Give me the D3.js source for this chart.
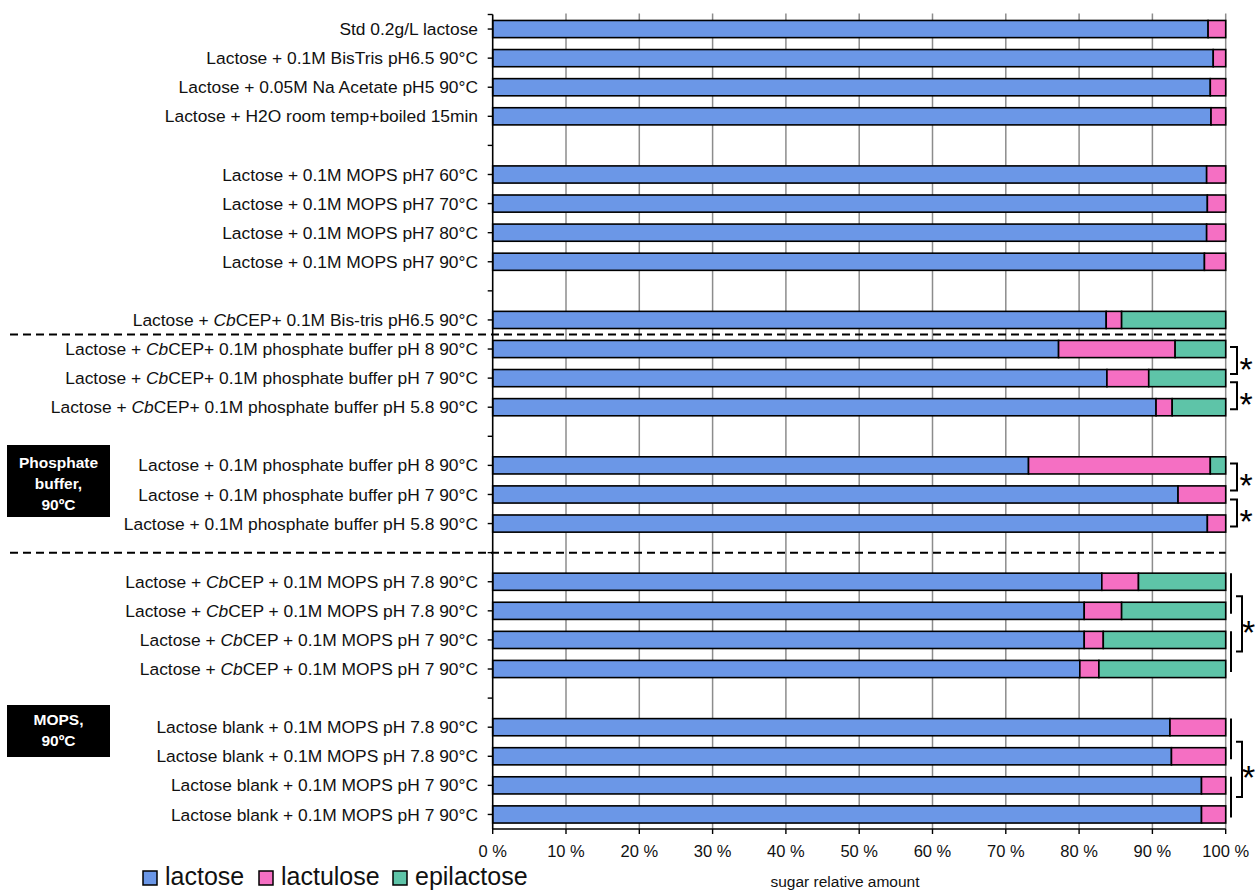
<!DOCTYPE html>
<meta charset="utf-8">
<style>
  body { margin: 0; background: #fff; }
  svg text { font-family: "Liberation Sans", Arial, sans-serif; }
  .cat { font-size: 17.4px; fill: #111; }
  .tick { font-size: 16.5px; fill: #111; }
  .xlab { font-size: 15.5px; fill: #111; }
  .legend { font-size: 25px; fill: #111; }
  .box text { font-size: 15.5px; font-weight: bold; fill: #fff; }
  .star { font-size: 34px; fill: #000; }
</style>
<svg width="1255" height="890"></svg>
<script src="https://cdn.jsdelivr.net/npm/d3@7"></script>
<script>
// row labels, "" = empty spacer row; *...* = italic
var categories = [
  "Std 0.2g/L lactose",
  "Lactose + 0.1M BisTris pH6.5 90°C",
  "Lactose + 0.05M Na Acetate pH5 90°C",
  "Lactose + H2O room temp+boiled 15min",
  "",
  "Lactose + 0.1M MOPS pH7 60°C",
  "Lactose + 0.1M MOPS pH7 70°C",
  "Lactose + 0.1M MOPS pH7 80°C",
  "Lactose + 0.1M MOPS pH7 90°C",
  "",
  "Lactose + *Cb*CEP+ 0.1M Bis-tris pH6.5 90°C",
  "Lactose + *Cb*CEP+ 0.1M phosphate buffer pH 8 90°C",
  "Lactose + *Cb*CEP+ 0.1M phosphate buffer pH 7 90°C",
  "Lactose + *Cb*CEP+ 0.1M phosphate buffer pH 5.8 90°C",
  "",
  "Lactose + 0.1M phosphate buffer pH 8 90°C",
  "Lactose + 0.1M phosphate buffer pH 7 90°C",
  "Lactose + 0.1M phosphate buffer pH 5.8 90°C",
  "",
  "Lactose + *Cb*CEP + 0.1M MOPS pH 7.8 90°C",
  "Lactose + *Cb*CEP + 0.1M MOPS pH 7.8 90°C",
  "Lactose + *Cb*CEP + 0.1M MOPS pH 7 90°C",
  "Lactose + *Cb*CEP + 0.1M MOPS pH 7 90°C",
  "",
  "Lactose blank + 0.1M MOPS pH 7.8 90°C",
  "Lactose blank + 0.1M MOPS pH 7.8 90°C",
  "Lactose blank + 0.1M MOPS pH 7 90°C",
  "Lactose blank + 0.1M MOPS pH 7 90°C"
];

var lactose    = [97.6, 98.3, 97.9, 98.0, null, 97.4, 97.5, 97.4, 97.1, null, 83.7, 77.2, 83.8, 90.5, null, 73.1, 93.5, 97.5, null, 83.1, 80.7, 80.7, 80.1, null, 92.4, 92.6, 96.7, 96.7];
var lactulose  = [2.4, 1.7, 2.1, 2.0, null, 2.6, 2.5, 2.6, 2.9, null, 2.1, 15.9, 5.7, 2.2, null, 24.8, 6.5, 2.5, null, 5.0, 5.1, 2.6, 2.6, null, 7.6, 7.4, 3.3, 3.3];
var epilactose = [0, 0, 0, 0, null, 0, 0, 0, 0, null, 14.2, 6.9, 10.5, 7.3, null, 2.1, 0, 0, null, 11.9, 14.2, 16.7, 17.3, null, 0, 0, 0, 0];

var seriesNames = ["lactose", "lactulose", "epilactose"];
var xTicks = [0, 10, 20, 30, 40, 50, 60, 70, 80, 90, 100];

// simple pair brackets [rowA, rowB, shift]
var pairBrackets = [[11, 12, -3], [12, 13, 3], [15, 16, -3], [16, 17, 4]];
// grouped brackets: [[a1,a2],[b1,b2]]
var groupBrackets = [[[19, 20], [21, 22]], [[24, 25], [26, 27]]];
// dashed dividers (row positions)
var dividerRows = [10.5, 18];
var boxes = [
  {lines: ["Phosphate", "buffer,", "90ºC"], y: 445, h: 72, ty: 463},
  {lines: ["MOPS,", "90ºC"], y: 705, h: 52, ty: 720}
];

var colors = {lactose: "#6b97e7", lactulose: "#f56fc3", epilactose: "#5ec4a8"};

var table = categories.map(function(c, i) {
  return {i: i, label: c, lactose: lactose[i] || 0, lactulose: lactulose[i] || 0, epilactose: epilactose[i] || 0, empty: lactose[i] == null};
});

var svg = d3.select("svg");
var pLeft = 492.7, pRight = 1225.7, pTop = 14.5, pBottom = 829;

var x = d3.scaleLinear().domain([0, 100]).range([pLeft, pRight]);
var y = d3.scaleBand().domain(d3.range(categories.length)).range([pTop, pBottom])
  .paddingInner(0.41).paddingOuter(0.205);
var step = y.step();
function yc(i) { return pTop + step * (i + 0.5); }

// gridlines
svg.append("g").selectAll("line").data(xTicks.slice(1)).enter().append("line")
  .attr("x1", d => x(d)).attr("x2", d => x(d))
  .attr("y1", pTop - 1).attr("y2", pBottom)
  .attr("stroke", "#8c8c8c").attr("stroke-width", 1.5);

// bars
var stack = d3.stack().keys(seriesNames)(table.filter(d => !d.empty));
svg.append("g").selectAll("g").data(stack).enter().append("g")
  .attr("fill", d => colors[d.key])
  .selectAll("rect").data(d => d.filter(p => p[1] - p[0] > 0)).enter().append("rect")
  .attr("x", d => x(d[0]))
  .attr("width", d => x(d[1]) - x(d[0]))
  .attr("y", d => y(d.data.i))
  .attr("height", y.bandwidth())
  .attr("stroke", "#000").attr("stroke-width", 1.6);

// axes
var yAxis = svg.append("g");
yAxis.append("line").attr("x1", pLeft).attr("x2", pLeft).attr("y1", pTop).attr("y2", pBottom)
  .attr("stroke", "#000").attr("stroke-width", 1.6);
yAxis.selectAll(".yt").data([-0.5].concat(d3.range(categories.length))).enter().append("line")
  .attr("x1", pLeft - 5).attr("x2", pLeft)
  .attr("y1", d => yc(d)).attr("y2", d => yc(d))
  .attr("stroke", "#000").attr("stroke-width", 1.4);

var xAxis = svg.append("g");
xAxis.append("line").attr("x1", pLeft).attr("x2", pRight).attr("y1", pBottom).attr("y2", pBottom)
  .attr("stroke", "#000").attr("stroke-width", 1.6);
xAxis.selectAll("line.t").data(xTicks).enter().append("line")
  .attr("x1", d => x(d)).attr("x2", d => x(d)).attr("y1", pBottom).attr("y2", pBottom + 5)
  .attr("stroke", "#000").attr("stroke-width", 1.4);
xAxis.selectAll("text").data(xTicks).enter().append("text")
  .attr("class", "tick")
  .attr("x", d => x(d)).attr("y", 857).attr("text-anchor", "middle")
  .text(d => d + " %");

svg.append("text").attr("class", "xlab").attr("x", 845).attr("y", 887)
  .attr("text-anchor", "middle").text("sugar relative amount");

// category labels with italic parts
svg.append("g").selectAll("text").data(table.filter(d => d.label)).enter().append("text")
  .attr("class", "cat")
  .attr("x", 478).attr("y", d => yc(d.i)).attr("dy", "0.35em").attr("text-anchor", "end")
  .each(function(d) {
    var t = d3.select(this);
    d.label.split("*").forEach(function(part, k) {
      if (!part) return;
      t.append("tspan").style("font-style", k % 2 ? "italic" : null).text(part);
    });
  });

// dashed dividers
svg.append("g").selectAll("line").data(dividerRows).enter().append("line")
  .attr("x1", 10).attr("x2", pRight)
  .attr("y1", d => yc(d)).attr("y2", d => yc(d))
  .attr("stroke", "#000").attr("stroke-width", 2).attr("stroke-dasharray", "8,5");

// side boxes
var bx = svg.append("g").attr("class", "box").selectAll("g").data(boxes).enter().append("g");
bx.append("rect").attr("x", 7).attr("width", 103)
  .attr("y", d => d.y).attr("height", d => d.h).attr("fill", "#000");
bx.each(function(d) {
  d3.select(this).selectAll("text").data(d.lines).enter().append("text")
    .attr("x", 58.5).attr("y", (l, k) => d.ty + k * 21).attr("dy", "0.35em")
    .attr("text-anchor", "middle").text(l => l);
});

// significance brackets
var ann = svg.append("g").attr("stroke", "#000").attr("stroke-width", 2).attr("fill", "none");
pairBrackets.forEach(function(b) {
  var m = (yc(b[0]) + yc(b[1])) / 2 + b[2], h = 13.5;
  ann.append("path").attr("d", "M1230," + (m - h) + "H1237V" + (m + h) + "H1230");
  svg.append("text").attr("class", "star").attr("x", 1246).attr("y", m + 20).attr("text-anchor", "middle").text("*");
});
groupBrackets.forEach(function(g) {
  var a0 = y(g[0][0]), a1 = yc(g[0][1]) + 3, b0 = y(g[1][0]), b1 = yc(g[1][1]) + 3;
  ann.append("line").attr("x1", 1231).attr("x2", 1231).attr("y1", a0).attr("y2", a1);
  ann.append("line").attr("x1", 1231).attr("x2", 1231).attr("y1", b0).attr("y2", b1);
  var m0 = (yc(g[0][0]) + yc(g[0][1])) / 2, m1 = (yc(g[1][0]) + yc(g[1][1])) / 2 - 3;
  ann.append("path").attr("d", "M1236," + m0 + "H1242V" + m1 + "H1236");
  svg.append("text").attr("class", "star").attr("x", 1248.5).attr("y", (m0 + m1) / 2 + 20).attr("text-anchor", "middle").text("*");
});

// legend
var lg = svg.append("g").selectAll("g").data(seriesNames).enter().append("g")
  .attr("transform", (d, i) => "translate(" + [143, 259, 393][i] + ",871)");
lg.append("rect").attr("width", 14).attr("height", 14)
  .attr("fill", d => colors[d]).attr("stroke", "#000").attr("stroke-width", 1.5);
lg.append("text").attr("class", "legend").attr("x", 22).attr("y", 14).text(d => d);
</script>
